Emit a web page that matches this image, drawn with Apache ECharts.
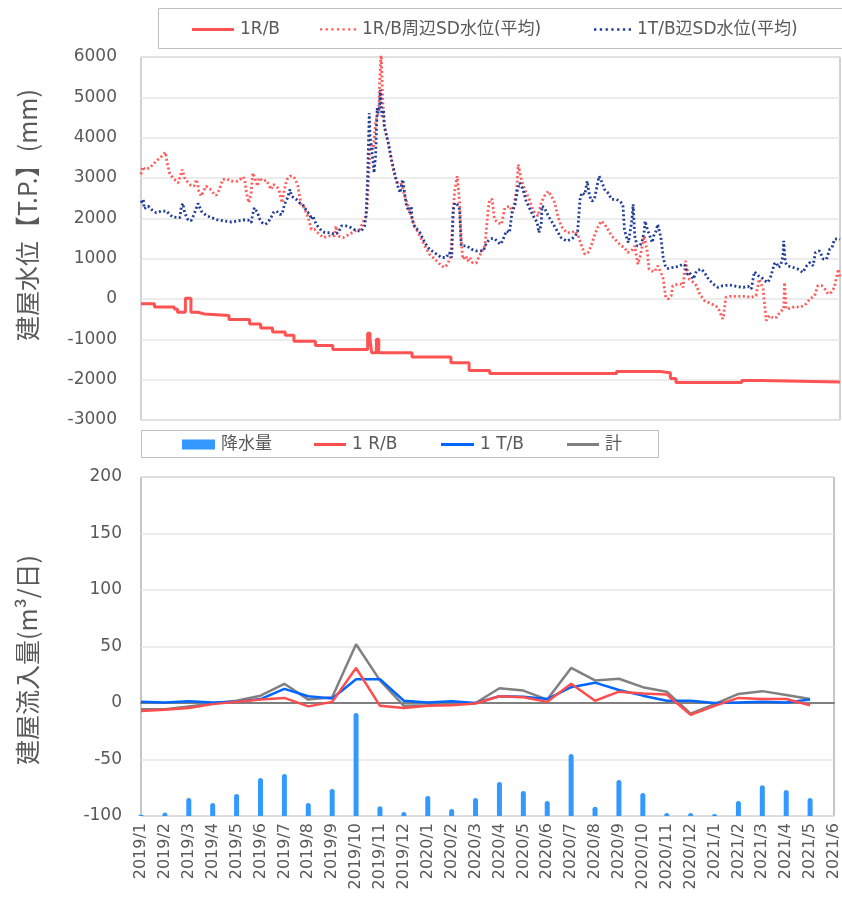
<!DOCTYPE html>
<html><head><meta charset="utf-8">
<script src="https://cdn.jsdelivr.net/npm/echarts@6/dist/echarts.min.js"></script>
<style>html,body{margin:0;padding:0;background:#fff}#c{width:842px;height:899px}</style>
</head><body><div id="c"></div>
<script>
// ---- Top chart data: [days since 2019-01-01, water level mm] ----
const rbLevel = [[0,-120],[17,-200],[42,-250],[46,-330],[56,20],[63,-330],[72,-370],[80,-410],[111,-510],[137,-620],[151,-720],[166,-820],[182,-900],[193,-1050],[220,-1150],[242,-1250],[286,-850],[289,-1000],[291,-1330],[297,-1000],[300,-1330],[342,-1440],[391,-1580],[414,-1770],[440,-1850],[600,-1800],[655,-1830],[668,-1970],[675,-2070],[758,-2020],[782,-2060],[882,-2060]];
const rbSdLevel = [[0,3090],[2,3275],[5,3210],[11,3250],[17,3374],[26,3539],[31,3638],[33,3374],[36,3127],[40,3004],[47,2880],[49,2922],[52,3210],[54,3250],[55,3004],[58,2922],[63,2815],[67,2798],[70,2963],[72,2798],[73,2675],[76,2551],[80,2716],[82,2798],[87,2733],[91,2634],[95,2568],[99,2716],[103,2963],[108,2979],[114,2922],[122,2922],[129,3029],[131,2922],[133,2634],[136,2387],[139,2634],[141,3127],[143,3144],[145,2922],[147,2798],[149,3004],[151,3045],[154,2922],[158,2946],[161,2839],[164,2716],[167,2839],[171,2798],[174,2716],[176,2551],[178,2387],[181,2716],[184,2963],[188,3045],[192,3045],[195,2963],[198,2798],[200,2551],[202,2346],[206,2263],[211,2016],[213,2058],[215,1728],[219,1728],[222,1662],[230,1522],[238,1564],[244,1564],[246,1811],[248,1564],[255,1522],[263,1605],[270,1687],[276,1728],[280,1893],[283,2016],[285,2222],[288,3292],[289,3868],[293,3703],[296,4362],[298,4526],[300,4691],[301,5350],[303,6100],[305,4938],[307,4280],[312,3868],[316,3457],[320,3045],[324,2880],[328,2880],[333,2551],[337,2304],[341,2058],[345,1811],[352,1564],[358,1317],[364,1111],[373,946],[379,823],[383,782],[387,864],[391,1070],[394,2222],[396,2716],[399,3045],[402,2387],[404,1481],[406,988],[410,1070],[412,946],[415,1029],[418,905],[423,889],[427,1070],[434,1317],[438,2222],[440,2469],[443,2469],[444,2304],[446,1975],[450,1893],[455,1852],[459,2263],[465,2304],[469,2140],[474,2716],[476,3333],[480,2963],[484,2716],[490,2469],[495,2181],[501,2058],[505,2387],[509,2551],[514,2675],[518,2551],[522,2387],[526,2058],[530,1811],[537,1646],[543,1646],[548,1687],[551,1605],[556,1317],[560,1111],[564,1152],[568,1317],[572,1564],[577,1811],[581,1934],[585,1852],[589,1728],[594,1564],[600,1440],[606,1317],[610,1276],[614,1152],[619,1193],[623,1317],[625,1070],[627,864],[630,1070],[632,1070],[635,1564],[637,1564],[639,1152],[641,741],[644,700],[648,675],[652,823],[656,658],[659,494],[662,41],[665,0],[669,82],[671,329],[678,370],[682,370],[684,288],[687,946],[689,741],[692,494],[697,411],[701,329],[705,123],[711,-41],[720,-123],[728,-206],[734,-494],[735,-411],[738,41],[743,66],[762,66],[770,41],[776,82],[780,494],[782,535],[785,247],[787,-165],[789,-535],[793,-411],[798,-477],[802,-453],[806,-329],[811,-247],[812,411],[814,-247],[819,-230],[825,-189],[831,-206],[838,-148],[844,0],[850,82],[854,329],[859,329],[863,247],[867,123],[871,165],[875,288],[877,494],[880,741],[882,494]];
const tbSdLevel = [[0,2387],[3,2469],[4,2239],[9,2304],[13,2222],[19,2140],[26,2181],[32,2181],[36,2098],[40,2033],[49,2016],[51,2304],[53,2370],[55,2140],[59,1975],[63,1934],[66,2058],[70,2263],[72,2370],[76,2181],[82,2074],[89,2016],[97,1959],[106,1934],[114,1909],[122,1934],[129,1959],[135,1959],[139,1893],[141,2098],[143,2263],[147,2140],[150,1975],[153,1893],[157,1852],[160,1893],[164,2016],[167,2140],[171,2181],[175,2098],[178,2098],[181,2346],[185,2510],[188,2716],[190,2551],[192,2510],[196,2469],[200,2387],[204,2346],[209,2181],[213,2098],[215,1975],[217,2058],[221,1850],[228,1687],[232,1646],[238,1646],[244,1605],[249,1646],[253,1811],[259,1811],[265,1769],[272,1687],[278,1687],[282,1811],[284,2058],[286,3045],[288,4609],[289,4033],[291,3703],[293,3374],[294,3127],[296,3539],[298,4732],[299,4609],[301,4773],[302,5185],[304,4526],[306,4691],[307,4280],[312,3868],[316,3457],[320,3127],[324,2798],[327,2634],[330,2963],[331,2880],[333,2551],[335,2304],[339,2140],[341,2304],[342,1975],[345,1811],[352,1646],[358,1399],[364,1234],[373,1111],[379,1029],[385,1029],[389,1152],[392,1029],[394,2222],[396,2387],[399,2346],[402,2222],[404,1317],[411,1317],[417,1234],[423,1193],[432,1193],[436,1399],[440,1481],[443,1500],[446,1498],[451,1399],[454,1358],[457,1481],[461,1687],[465,1646],[468,2140],[472,2346],[475,2716],[478,2880],[482,2716],[486,2428],[490,2263],[495,2058],[500,1893],[502,1646],[505,1852],[506,2304],[509,2263],[514,2058],[519,1893],[524,1728],[530,1522],[537,1440],[543,1481],[548,1564],[551,1687],[554,2469],[556,2634],[560,2593],[563,2922],[566,2551],[569,2428],[572,2469],[575,2757],[578,3045],[581,2922],[585,2716],[589,2634],[594,2469],[600,2469],[604,2428],[608,2346],[610,1728],[612,1564],[615,1399],[617,1399],[619,1893],[621,2346],[623,1564],[626,1317],[629,1317],[632,1399],[635,1687],[636,1934],[639,1728],[642,1564],[645,1399],[647,1564],[650,1687],[652,1852],[656,1522],[659,1029],[662,782],[665,757],[671,782],[678,807],[684,864],[687,823],[689,617],[692,658],[697,494],[701,700],[707,741],[711,658],[716,494],[722,370],[728,288],[734,329],[743,346],[751,313],[760,288],[766,313],[770,247],[774,675],[779,576],[783,535],[787,453],[791,411],[795,576],[799,864],[802,905],[804,782],[807,823],[810,1070],[811,1440],[813,905],[816,823],[823,782],[829,741],[835,658],[840,823],[844,905],[848,823],[851,1152],[856,1193],[861,988],[865,988],[869,1234],[872,1276],[875,1481],[880,1498],[882,1481]];

// ---- Bottom chart data ----
const months = ['2019/1','2019/2','2019/3','2019/4','2019/5','2019/6','2019/7','2019/8','2019/9','2019/10','2019/11','2019/12','2020/1','2020/2','2020/3','2020/4','2020/5','2020/6','2020/7','2020/8','2020/9','2020/10','2020/11','2020/12','2021/1','2021/2','2021/3','2021/4','2021/5','2021/6'];
const rainfall = [4,10,53,38,65,112,124,38,80,304,29,12,59,21,53,100,74,44,183,27,106,68,9,9,6,44,91,77,53,null];
const inflowRB = [-7,-6,-4.5,-1,1,3,4.5,-3,1,31,-2.5,-4.5,-2.5,-2,-0.5,6,5,1,17,2,10,8.5,7.5,-10.5,-2.5,4.5,3.5,3.5,-2,null];
const inflowTB = [1,0.5,1.5,0.5,1,3.5,12.5,6,4,21,21,2,0.5,1.5,0,6,5.5,3.5,14,18,11.5,6.5,2,2,0,0.5,1,0.5,3,null];
const inflowTotal = [-5.5,-5.5,-3,-0.5,2,6.5,17,3,5,52,20,-2.5,-2,-1,0,13,11,3,31,20,21.5,14,10,-9.5,-1,8,10.5,7,3.5,null];

const BASE = Date.UTC(2019,0,1), DAY = 86400000;
const toTime = arr => arr.map(p => [BASE + p[0]*DAY, p[1]]);

const FONT = "'DejaVu Sans','Noto Sans CJK JP',sans-serif";
const TXT = '#595959';
const DOTS = 'path://M0,0h2v2h-2zM5,0h2v2h-2zM10,0h2v2h-2zM15,0h2v2h-2zM20,0h2v2h-2zM25,0h2v2h-2zM30,0h2v2h-2z';
const chart = echarts.init(document.getElementById('c'), null, {renderer:'canvas'});

const legendBase = (name, left, top, icon, w, h) => ({
  data:[{name:name, icon:icon}], left:left, top:top, itemWidth:w, itemHeight:h, itemGap:0, padding:0,
  textStyle:{fontSize:17, color:TXT, fontFamily:FONT, padding:[0,0,0,1]}, selectedMode:false
});

chart.setOption({
  animation:false,
  backgroundColor:'#fff',
  graphic:[
    {type:'rect', shape:{x:158.5,y:8.5,width:690,height:40}, style:{fill:'none', stroke:'#bfbfbf', lineWidth:1}},
    {type:'rect', shape:{x:141.5,y:430.5,width:517,height:27}, style:{fill:'none', stroke:'#bfbfbf', lineWidth:1}},
    {type:'text', x:27, y:215, rotation:Math.PI/2, style:{text:'建屋水位【T.P.】(mm)', font:"25px 'Noto Sans CJK JP'", fill:TXT, textAlign:'center', textVerticalAlign:'middle'}},
    {type:'text', x:27, y:660, rotation:Math.PI/2, style:{text:'建屋流入量(m³/日)', font:"25px 'Noto Sans CJK JP'", fill:TXT, textAlign:'center', textVerticalAlign:'middle'}}
  ],
  legend:[
    legendBase('1R/B', 192, 21, 'rect', 42, 3),
    legendBase('1R/B周辺SD水位(平均)', 320, 21, DOTS, 36, 3),
    legendBase('1T/B辺SD水位(平均)', 594, 21, DOTS, 37, 3),
    legendBase('降水量', 182, 436, 'rect', 33, 10),
    legendBase('1 R/B', 314, 436, 'rect', 32, 3),
    legendBase('1 T/B', 441, 436, 'rect', 33, 3),
    legendBase('計', 567, 436, 'rect', 32, 3)
  ],
  grid:[
    {left:141, top:57, width:699, height:363, show:true, borderColor:'#a6a6a6', borderWidth:1},
    {left:141, top:477, width:699, height:339, show:true, borderColor:'#8c8c8c', borderWidth:1}
  ],
  xAxis:[
    {type:'time', gridIndex:0, min:BASE, max:BASE+882*DAY, show:false},
    {type:'category', gridIndex:1, data:months, boundaryGap:false,
     axisLine:{lineStyle:{color:'#7f7f7f', width:2}}, axisTick:{show:false},
     axisLabel:{rotate:90, interval:0, fontSize:16, color:TXT, fontFamily:FONT, margin:7}}
  ],
  yAxis:[
    {type:'value', gridIndex:0, min:-3000, max:6000, interval:1000,
     axisLine:{show:false}, axisTick:{show:false},
     axisLabel:{fontSize:17, color:TXT, fontFamily:FONT, margin:24, formatter:v => String(v)},
     splitLine:{lineStyle:{color:'#e6e6e6', width:1.5}}},
    {type:'value', gridIndex:1, min:-100, max:200, interval:50,
     axisLine:{show:false}, axisTick:{show:false},
     axisLabel:{fontSize:17, color:TXT, fontFamily:FONT, margin:19, formatter:v => String(v)},
     splitLine:{lineStyle:{color:'#e6e6e6', width:1.5}}},
    {type:'value', gridIndex:1, min:0, max:1000, show:false, splitLine:{show:false}}
  ],
  series:[
    {name:'1R/B周辺SD水位(平均)', type:'line', xAxisIndex:0, yAxisIndex:0, data:toTime(rbSdLevel), showSymbol:false, symbol:'none',
     lineStyle:{color:'#ff5b5b', width:2.8, type:[2,2.5]}, itemStyle:{color:'#ff5b5b'}, z:3},
    {name:'1T/B辺SD水位(平均)', type:'line', xAxisIndex:0, yAxisIndex:0, data:toTime(tbSdLevel), showSymbol:false, symbol:'none',
     lineStyle:{color:'#1f3c98', width:2.8, type:[2,2.5]}, itemStyle:{color:'#1f3c98'}, z:4},
    {name:'1R/B', type:'line', xAxisIndex:0, yAxisIndex:0, data:toTime(rbLevel), step:'end', showSymbol:false, symbol:'none',
     lineStyle:{color:'#ff5252', width:3}, itemStyle:{color:'#ff5252'}, z:5},
    {name:'降水量', type:'bar', xAxisIndex:1, yAxisIndex:2, data:rainfall, barWidth:5,
     itemStyle:{color:'#3399ff', borderRadius:[2.5,2.5,0,0]}},
    {name:'1 R/B', type:'line', xAxisIndex:1, yAxisIndex:1, data:inflowRB, showSymbol:false, symbol:'none',
     lineStyle:{color:'#ff4d4d', width:2.5}, itemStyle:{color:'#ff4d4d'}, z:5},
    {name:'1 T/B', type:'line', xAxisIndex:1, yAxisIndex:1, data:inflowTB, showSymbol:false, symbol:'none',
     lineStyle:{color:'#0066ff', width:2.5}, itemStyle:{color:'#0066ff'}, z:4},
    {name:'計', type:'line', xAxisIndex:1, yAxisIndex:1, data:inflowTotal, showSymbol:false, symbol:'none',
     lineStyle:{color:'#808080', width:2.5}, itemStyle:{color:'#808080'}, z:3}
  ]
});
</script></body></html>
